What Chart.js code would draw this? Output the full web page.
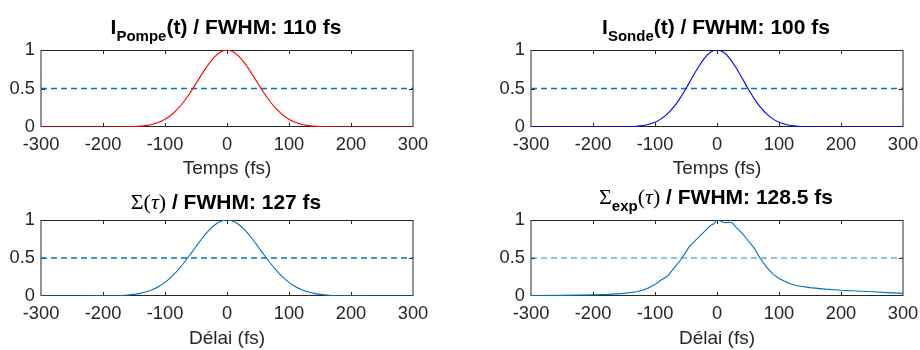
<!DOCTYPE html>
<html><head><meta charset="utf-8">
<script src="https://cdn.jsdelivr.net/npm/chart.js@4/dist/chart.umd.min.js"></script>
<style>
html,body{margin:0;padding:0;background:#fff;overflow:hidden;width:920px;height:350px;}
canvas{position:absolute;}
.t{position:absolute;font-family:"Liberation Sans",Arial,sans-serif;font-weight:bold;font-size:21px;color:#000;white-space:nowrap;line-height:24px;transform:translateX(-50%);}
.t span{line-height:0;}
.sub{font-size:15px;position:relative;top:7px;}
.ser{font-family:"Liberation Serif","DejaVu Serif",serif;font-weight:normal;font-size:22px;}
</style></head><body>
<canvas id="c1" width="460" height="180" style="left:0;top:0"></canvas>
<canvas id="c2" width="430" height="180" style="left:490px;top:0"></canvas>
<canvas id="c3" width="460" height="170" style="left:0;top:180px"></canvas>
<canvas id="c4" width="430" height="170" style="left:490px;top:180px"></canvas>
<div class="t" style="left:226px;top:15px">I<span class="sub">Pompe</span>(t) / FWHM: 110 fs</div>
<div class="t" style="left:716px;top:15px">I<span class="sub">Sonde</span>(t) / FWHM: 100 fs</div>
<div class="t" style="left:226px;top:190px"><span class="ser">Σ(<i>τ</i>)</span> / FWHM: 127 fs</div>
<div class="t" style="left:716px;top:185px"><span class="ser">Σ</span><span class="sub">exp</span><span class="ser">(<i>τ</i>)</span> / FWHM: 128.5 fs</div>
<script>
// ---- data ----
const timeFs = [-300,-250,-200,-190,-180,-170,-160,-150,-140,-130,-120,-110,-100,-90,-80,-70,-60,-50,-40,-30,-20,-10,0,10,20,30,40,50,60,70,80,90,100,110,120,130,140,150,160,170,180,190,200,250,300];
const pumpIntensity = [0,0,0.0001,0.0003,0.0006,0.0013,0.0028,0.0058,0.0112,0.0208,0.0369,0.0625,0.101,0.156,0.231,0.325,0.438,0.564,0.693,0.814,0.912,0.977,1,0.977,0.912,0.814,0.693,0.564,0.438,0.325,0.231,0.156,0.101,0.0625,0.0369,0.0208,0.0112,0.0058,0.0028,0.0013,0.0006,0.0003,0.0001,0,0];
const probeIntensity = [0,0,0,0,0.0001,0.0003,0.0008,0.002,0.0044,0.0092,0.0185,0.0349,0.0625,0.106,0.170,0.257,0.369,0.5,0.642,0.779,0.895,0.973,1,0.973,0.895,0.779,0.642,0.5,0.369,0.257,0.170,0.106,0.0625,0.0349,0.0185,0.0092,0.0044,0.002,0.0008,0.0003,0.0001,0,0,0,0];
const crossCorr = [0,0,0.001,0.002,0.0038,0.007,0.0123,0.0209,0.0344,0.0547,0.0841,0.125,0.179,0.248,0.333,0.431,0.539,0.651,0.760,0.857,0.934,0.983,1,0.983,0.934,0.857,0.760,0.651,0.539,0.431,0.333,0.248,0.179,0.125,0.0841,0.0547,0.0344,0.0209,0.0123,0.007,0.0038,0.002,0.001,0,0];
const expDelay = [-300,-250,-200,-175,-150,-130,-120,-110,-100,-90,-80,-70,-60,-50,-45,-40,-30,-20,-10,-5,0,5,10,15,20,25,30,40,50,60,70,80,90,100,110,120,130,150,175,200,225,250,275,300];
const expSignal = [0.005,0.008,0.015,0.022,0.035,0.055,0.075,0.11,0.15,0.21,0.26,0.36,0.46,0.58,0.65,0.69,0.77,0.85,0.93,0.95,1.0,0.99,0.97,0.965,0.97,0.96,0.91,0.83,0.73,0.63,0.49,0.38,0.29,0.23,0.19,0.155,0.135,0.11,0.09,0.075,0.065,0.055,0.045,0.035];
const halfMaxX = [-300,300];
const halfMaxY = [0.5,0.5];
const xTickValues = [-300,-200,-100,0,100,200,300];
const yTickValues = [0,0.5,1];
const xInnerTicks = [-200,-100,0,100,200];
const yInnerTicks = [0.5];

const FONT = '"Liberation Sans", Arial, sans-serif';
const TXT = '#262626';

const boxPlugin = {
  id:'box',
  beforeDatasetsDraw(chart){
    const {ctx, chartArea:a, scales:{x,y}} = chart;
    ctx.save();
    ctx.strokeStyle = TXT; ctx.lineWidth = 1;
    ctx.beginPath();
    ctx.moveTo(a.left, a.top+0.5); ctx.lineTo(a.right, a.top+0.5);
    ctx.moveTo(a.left, a.bottom-0.5); ctx.lineTo(a.right, a.bottom-0.5);
    ctx.moveTo(a.left, a.top); ctx.lineTo(a.left, a.bottom);
    ctx.moveTo(a.right, a.top); ctx.lineTo(a.right, a.bottom);
    xInnerTicks.forEach(v=>{
      const p = Math.round(x.getPixelForValue(v))+0.5;
      ctx.moveTo(p, a.bottom); ctx.lineTo(p, a.bottom-4);
      ctx.moveTo(p, a.top); ctx.lineTo(p, a.top+4);
    });
    yInnerTicks.forEach(v=>{
      const p = Math.round(y.getPixelForValue(v))+0.5;
      ctx.moveTo(a.left, p); ctx.lineTo(a.left+4, p);
      ctx.moveTo(a.right, p); ctx.lineTo(a.right-4, p);
    });
    ctx.stroke();
    ctx.restore();
  }
};

function makeChart(id, xs, ys, color, smooth, xTitle, padTop, padRight, xHeight, dashColor){
  const pts = xs.map((v,i)=>({x:v,y:ys[i]}));
  const half = halfMaxX.map((v,i)=>({x:v,y:halfMaxY[i]}));
  return new Chart(document.getElementById(id), {
    type:'line',
    data:{datasets:[
      {data:pts, borderColor:color, borderWidth:1.1, pointRadius:0, fill:false,
       cubicInterpolationMode: smooth ? 'monotone' : 'default', tension:0},
      {data:half, borderColor:dashColor, borderWidth:1.3, borderDash:[6,4], pointRadius:0, fill:false}
    ]},
    options:{
      responsive:false, devicePixelRatio:1, animation:false,
      layout:{padding:{top:padTop,right:padRight,left:0,bottom:0}},
      plugins:{legend:{display:false},tooltip:{enabled:false},title:{display:false}},
      scales:{
        x:{type:'linear', min:-300, max:300,
          grid:{display:false, drawTicks:false}, border:{display:false},
          ticks:{autoSkip:false, maxRotation:0, padding:7, color:TXT, font:{family:FONT,size:18.3},
                 callback:(v)=>String(v)},
          afterBuildTicks(s){ s.ticks = xTickValues.map(v=>({value:v})); },
          afterFit(s){ s.height = xHeight; s.paddingLeft = 0; s.paddingRight = 0; },
          title:{display:true, text:xTitle, color:TXT, font:{family:FONT,size:19}, padding:{top:0,bottom:0}}
        },
        y:{type:'linear', min:0, max:1,
          grid:{display:false, drawTicks:false}, border:{display:false},
          ticks:{padding:6, color:TXT, font:{family:FONT,size:18.3}, callback:(v)=>String(v)},
          afterBuildTicks(s){ s.ticks = yTickValues.map(v=>({value:v})); },
          afterFit(s){ s.width = 41; s.paddingTop = 0; s.paddingBottom = 0; }
        }
      }
    },
    plugins:[boxPlugin]
  });
}

makeChart('c1', timeFs, pumpIntensity, '#FF0000', true, 'Temps (fs)', 50, 47, 53, '#0072BD');
makeChart('c2', timeFs, probeIntensity, '#0000FF', true, 'Temps (fs)', 50, 17, 53, '#0072BD');
makeChart('c3', timeFs, crossCorr, '#0072BD', true, 'Délai (fs)', 40, 47, 54, '#0072BD');
makeChart('c4', expDelay, expSignal, '#0072BD', false, 'Délai (fs)', 40, 17, 54, 'rgba(0,114,189,0.6)');
</script>
</body></html>
